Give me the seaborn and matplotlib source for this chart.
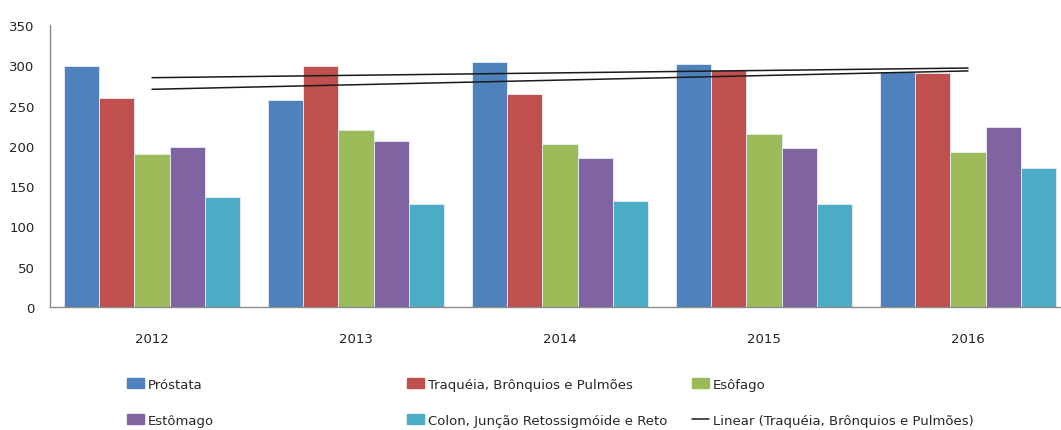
import seaborn as sns
import matplotlib.pyplot as plt
import matplotlib.lines as mlines
import matplotlib.patches as mpatches
import numpy as np
import pandas as pd

anos = ['2012', '2013', '2014', '2015', '2016']
prostata = [299, 257, 304, 301, 292]
traqueia = [260, 299, 264, 294, 291]
esofago = [190, 220, 202, 215, 192]
estomago = [199, 206, 185, 197, 223]
colon = [137, 128, 132, 128, 172]

series = ['Próstata', 'Traquéia, Brônquios e Pulmões', 'Esôfago',
          'Estômago', 'Colon, Junção Retossigmóide e Reto']
cores = ['#4F81BD', '#C0504D', '#9BBB59', '#8064A2', '#4BACC6']

df = pd.DataFrame({'ano': anos * 5,
                   'serie': np.repeat(series, 5),
                   'valor': prostata + traqueia + esofago + estomago + colon})

sns.set_style('white')
plt.rcParams['font.family'] = ['DejaVu Sans']

fig = plt.figure(figsize=(10.61, 4.31), dpi=100)
# o eixo passa um pouco da borda direita, como no original
ax = fig.add_axes([50 / 1061, 123 / 431, 1020 / 1061, 282 / 431])

sns.barplot(data=df, x='ano', y='valor', hue='serie', hue_order=series,
            palette=cores, saturation=1, width=0.86, ax=ax,
            edgecolor='#e8eef6', linewidth=0.6, legend=False)

# linhas de tendência (Próstata e Traquéia)
xs = np.arange(len(anos))
for vals in (prostata, traqueia):
    a, b = np.polyfit(xs, vals, 1)
    ax.plot(xs, a * xs + b, color='#1a1a1a', lw=1.1, zorder=5)

ax.set_xlim(-0.5, 4.5)
ax.set_ylim(0, 350)
ax.set_yticks(range(0, 351, 50))
ax.set_xlabel('')
ax.set_ylabel('')
ax.tick_params(axis='both', length=0, labelsize=9.5, colors='#222222')
ax.tick_params(axis='y', pad=11)
ax.tick_params(axis='x', pad=18)
for s in ['top', 'right']:
    ax.spines[s].set_visible(False)
for s in ['left', 'bottom']:
    ax.spines[s].set_color('#8c8c8c')
    ax.spines[s].set_linewidth(1)

# legenda em três colunas
h = [mpatches.Patch(color=c) for c in cores]
linha = mlines.Line2D([], [], color='#1a1a1a', lw=1.1)
colunas = [([h[0], h[3]], [series[0], series[3]], 120),
           ([h[1], h[4]], [series[1], series[4]], 400),
           ([h[2], linha], [series[2], 'Linear (Traquéia, Brônquios e Pulmões)'], 685)]
for hs, labs, x0 in colunas:
    fig.legend(hs, labs, loc='upper left', bbox_to_anchor=(x0 / 1061, 1 - 372 / 431),
               frameon=False, fontsize=9.5, handlelength=1.3, handleheight=0.7,
               handletextpad=0.3, labelspacing=1.75, borderpad=0)

fig.savefig('out.png', dpi=100)
